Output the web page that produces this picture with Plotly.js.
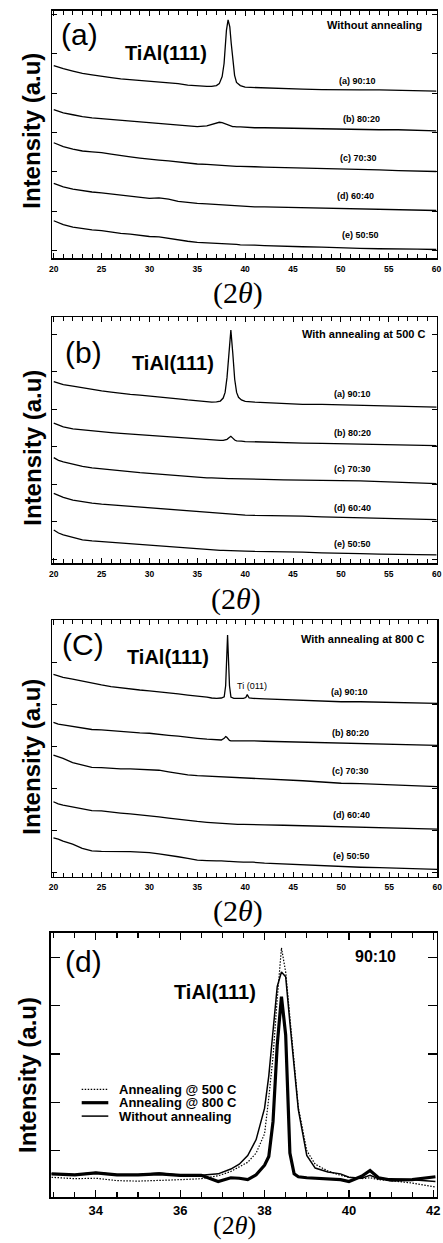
<!DOCTYPE html>
<html><head><meta charset="utf-8">
<script src="https://cdn.plot.ly/plotly-3.0.1.min.js"></script>
<style>html,body{margin:0;padding:0;background:#fff}#chart{width:443px;height:1243px}</style>
</head><body><div id="chart"></div>
<script>
// ---------------- DATA ----------------
// Panel (a) Without annealing
const xA = [20,20.5,21,22,23,24,25,26,27,28,29,30,31,32,33,34,35,36,36.5,37,37.3,37.6,37.8,37.9,38.05,38.22,38.4,38.55,38.7,38.9,39.1,39.5,40,41,42,44,46,48,50,52,54,56,58,60];
const a1 = [4.70,4.65,4.62,4.56,4.50,4.46,4.42,4.39,4.36,4.34,4.33,4.31,4.28,4.26,4.24,4.20,4.18,4.17,4.17,4.19,4.24,4.42,4.75,5.15,5.60,5.86,5.68,5.26,4.85,4.45,4.27,4.19,4.15,4.14,4.13,4.11,4.10,4.09,4.08,4.08,4.08,4.07,4.06,4.05];
const a2 = [3.58,3.54,3.50,3.45,3.40,3.37,3.35,3.32,3.30,3.28,3.26,3.25,3.23,3.21,3.19,3.17,3.15,3.17,3.21,3.25,3.26,3.25,3.23,3.22,3.20,3.18,3.17,3.16,3.15,3.15,3.14,3.14,3.13,3.12,3.12,3.11,3.10,3.09,3.08,3.08,3.07,3.07,3.05,3.04];
const a3 = [2.74,2.69,2.64,2.58,2.53,2.51,2.49,2.45,2.41,2.38,2.35,2.32,2.30,2.28,2.25,2.22,2.20,2.19,2.18,2.18,2.17,2.17,2.16,2.16,2.16,2.16,2.15,2.15,2.15,2.15,2.14,2.14,2.14,2.13,2.12,2.11,2.10,2.09,2.07,2.06,2.05,2.03,2.02,2.01];
const a4 = [1.71,1.66,1.62,1.56,1.52,1.49,1.47,1.44,1.41,1.39,1.36,1.33,1.34,1.31,1.25,1.22,1.20,1.19,1.18,1.18,1.17,1.17,1.16,1.16,1.16,1.15,1.15,1.15,1.14,1.14,1.14,1.13,1.12,1.11,1.11,1.10,1.10,1.09,1.07,1.06,1.05,1.04,1.03,1.02];
const a5 = [0.76,0.70,0.66,0.60,0.56,0.53,0.51,0.47,0.44,0.42,0.39,0.36,0.35,0.31,0.27,0.24,0.21,0.20,0.20,0.19,0.19,0.18,0.18,0.18,0.17,0.17,0.17,0.17,0.16,0.16,0.16,0.15,0.15,0.14,0.13,0.11,0.10,0.09,0.07,0.06,0.05,0.05,0.04,0.03];

// Panel (b) With annealing at 500 C
const xB = [20,20.5,21,22,23,24,25,26,27,28,29,30,31,32,33,34,35,36,36.5,37,37.4,37.7,37.9,38.1,38.3,38.5,38.7,38.9,39.1,39.3,39.6,40,41,42,44,46,48,50,52,54,56,58,60];
const b1 = [4.74,4.69,4.66,4.62,4.57,4.52,4.49,4.46,4.42,4.40,4.38,4.36,4.34,4.31,4.28,4.25,4.22,4.20,4.19,4.20,4.22,4.30,4.45,4.85,5.55,6.11,5.50,4.80,4.45,4.32,4.25,4.21,4.19,4.18,4.15,4.13,4.13,4.12,4.12,4.11,4.09,4.08,4.06];
const b2 = [3.63,3.57,3.53,3.48,3.45,3.42,3.40,3.38,3.36,3.34,3.32,3.30,3.28,3.27,3.25,3.23,3.21,3.19,3.18,3.18,3.17,3.17,3.18,3.20,3.24,3.28,3.23,3.18,3.16,3.15,3.15,3.14,3.13,3.13,3.11,3.10,3.09,3.08,3.08,3.07,3.06,3.05,3.03];
const b3 = [2.71,2.64,2.60,2.53,2.48,2.44,2.41,2.38,2.36,2.33,2.31,2.29,2.27,2.25,2.23,2.20,2.18,2.17,2.17,2.16,2.16,2.16,2.15,2.15,2.15,2.15,2.15,2.14,2.14,2.14,2.14,2.14,2.13,2.13,2.12,2.12,2.11,2.10,2.09,2.07,2.05,2.04,2.02];
const b4 = [1.76,1.70,1.65,1.58,1.53,1.50,1.47,1.45,1.43,1.41,1.40,1.38,1.36,1.34,1.32,1.29,1.27,1.25,1.24,1.23,1.22,1.22,1.21,1.21,1.20,1.20,1.20,1.19,1.19,1.19,1.18,1.18,1.17,1.17,1.16,1.15,1.13,1.12,1.11,1.10,1.08,1.07,1.06];
const b5 = [0.78,0.70,0.65,0.58,0.52,0.49,0.47,0.45,0.43,0.41,0.40,0.38,0.36,0.34,0.32,0.29,0.27,0.26,0.25,0.25,0.24,0.24,0.24,0.23,0.23,0.23,0.23,0.22,0.22,0.22,0.22,0.22,0.21,0.21,0.20,0.19,0.17,0.15,0.15,0.14,0.13,0.12,0.12];

// Panel (c) With annealing at 800 C
const xC = [20,20.5,21,22,23,24,25,26,27,28,29,30,31,32,33,34,35,36,36.5,37,37.5,37.8,37.95,38.05,38.15,38.25,38.35,38.5,38.8,39.2,39.8,40.05,40.2,40.4,40.8,42,44,46,48,50,52,54,56,58,60];
const c1 = [4.72,4.68,4.65,4.61,4.56,4.51,4.47,4.43,4.40,4.38,4.35,4.33,4.31,4.28,4.26,4.23,4.21,4.18,4.16,4.15,4.16,4.19,4.45,5.05,5.66,5.05,4.45,4.18,4.15,4.15,4.15,4.17,4.24,4.16,4.15,4.14,4.12,4.10,4.09,4.07,4.07,4.06,4.05,4.04,4.03];
const c2 = [3.58,3.54,3.52,3.48,3.44,3.41,3.40,3.38,3.36,3.35,3.33,3.32,3.29,3.27,3.25,3.22,3.20,3.18,3.17,3.16,3.16,3.20,3.24,3.23,3.20,3.17,3.15,3.14,3.14,3.14,3.14,3.14,3.15,3.14,3.14,3.13,3.12,3.10,3.09,3.08,3.07,3.07,3.06,3.04,3.03];
const c3 = [2.80,2.76,2.72,2.62,2.56,2.51,2.50,2.48,2.47,2.47,2.46,2.46,2.44,2.40,2.36,2.33,2.31,2.30,2.29,2.29,2.28,2.28,2.28,2.28,2.28,2.27,2.27,2.27,2.27,2.27,2.26,2.26,2.26,2.25,2.25,2.24,2.22,2.19,2.16,2.13,2.12,2.10,2.08,2.07,2.05];
const c4 = [1.69,1.64,1.61,1.57,1.52,1.48,1.47,1.44,1.42,1.40,1.38,1.36,1.33,1.30,1.27,1.24,1.22,1.20,1.19,1.18,1.18,1.17,1.17,1.17,1.17,1.17,1.16,1.16,1.16,1.15,1.15,1.15,1.15,1.15,1.14,1.14,1.13,1.12,1.11,1.10,1.09,1.08,1.07,1.05,1.04];
const c5 = [0.83,0.80,0.75,0.68,0.58,0.52,0.51,0.51,0.51,0.50,0.49,0.48,0.45,0.42,0.38,0.34,0.30,0.29,0.28,0.28,0.28,0.27,0.27,0.27,0.27,0.27,0.27,0.27,0.26,0.26,0.25,0.25,0.25,0.25,0.25,0.23,0.21,0.19,0.16,0.14,0.13,0.12,0.11,0.09,0.08];

// Panel (d) 90:10 zoom on TiAl(111)
const xD = [32.95,33.5,34,34.5,35,35.5,36,36.5,36.9,37.2,37.4,37.6,37.8,38.0,38.1,38.2,38.3,38.4,38.5,38.6,38.7,38.8,39.0,39.2,39.5,39.8,40.0,40.3,40.5,40.7,41.0,41.5,42.05];
const dWithout = [0.52,0.50,0.55,0.50,0.50,0.54,0.49,0.49,0.52,0.62,0.72,0.90,1.23,1.88,2.55,3.54,4.40,4.70,4.60,3.65,2.78,1.85,0.90,0.64,0.56,0.52,0.45,0.43,0.49,0.42,0.42,0.40,0.36];
const d500 = [0.45,0.42,0.43,0.38,0.37,0.38,0.40,0.42,0.48,0.57,0.66,0.76,0.95,1.35,2.10,2.95,4.15,5.20,4.70,3.75,2.82,1.90,1.00,0.72,0.58,0.49,0.45,0.42,0.44,0.40,0.38,0.33,0.25];
const d800 = [0.52,0.50,0.54,0.50,0.50,0.52,0.49,0.49,0.36,0.44,0.43,0.40,0.50,0.70,0.88,1.60,3.19,4.19,3.40,0.95,0.52,0.46,0.44,0.43,0.41,0.40,0.36,0.47,0.59,0.44,0.39,0.40,0.46];

// Texts
const panelLetters = ['(a)','(b)','(C)','(d)'];
const conditions = ['Without annealing','With annealing at 500 C','With annealing at 800 C','90:10'];
const seriesLabels = ['(a) 90:10','(b) 80:20','(c) 70:30','(d) 60:40','(e) 50:50'];
const peakLabel = 'TiAl(111)';
const tiLabel = 'Ti (011)';
const yTitle = 'Intensity (a.u)';
const xTitle = '(2<i>θ</i>)';
const legendNames = ['Annealing @ 500 C','Annealing @ 800 C','Without annealing'];

// ---------------- LAYOUT ----------------
const W = 443, H = 1243;
const px = x => x / W, py = y => 1 - y / H;
const SANS = 'Liberation Sans, Arial, sans-serif';
const SERIF = 'Liberation Serif, Times New Roman, serif';
const DOTS = '1.5px,1.5px';

const panels = [
  {x: xA, ys: [a1,a2,a3,a4,a5], xd:[52.3,436.5], yd:[10.7,258.3], yr:[-0.193,6.091]},
  {x: xB, ys: [b1,b2,b3,b4,b5], xd:[52.3,436.7], yd:[317.3,563.3], yr:[-0.107,6.453]},
  {x: xC, ys: [c1,c2,c3,c4,c5], xd:[52.0,437.2], yd:[620,876.7], yr:[-0.095,6.017]}
];

const traces = [];
const layout = {
  width: W, height: H, margin:{l:0,r:0,t:0,b:0},
  paper_bgcolor:'white', plot_bgcolor:'white', showlegend:false,
  annotations: [], shapes: []
};

function axisCommon(domain, range, opts) {
  return Object.assign({
    domain: domain, range: range, showline:true, linecolor:'black', linewidth:1.5,
    mirror:'ticks', ticks:'inside', tickcolor:'black', showgrid:false, zeroline:false,
    fixedrange:true
  }, opts);
}

panels.forEach((p, i) => {
  const n = i + 1;
  const suf = n === 1 ? '' : String(n);
  p.ys.forEach(y => traces.push({
    type:'scatter', mode:'lines', x: p.x, y: y, xaxis:'x'+suf, yaxis:'y'+suf,
    line:{color:'black', width:1.3}, hoverinfo:'skip'
  }));
  layout['xaxis'+suf] = axisCommon([px(p.xd[0]), px(p.xd[1])], [19.85, 60], {
    anchor: 'y'+suf, dtick:5, tick0:0, ticklen:5, tickwidth:1,
    minor:{ticks:'inside', dtick:1, ticklen:4, tickcolor:'black', tickwidth:1, showgrid:false},
    tickfont:{family:SANS, size:8.5, color:'black', weight:'bold'}, ticklabelstandoff:2
  });
  layout['yaxis'+suf] = axisCommon([py(p.yd[1]), py(p.yd[0])], p.yr, {
    anchor: 'x'+suf, dtick:1, tick0:0, ticklen:5, tickwidth:1, showticklabels:false
  });
});

// Panel d
[[dWithout, {color:'black', width:1.5}],
 [d800, {color:'black', width:3.2}],
 [d500, {color:'black', width:1.2, dash:DOTS}]].forEach(t => {
  traces.push({type:'scatter', mode:'lines', x:xD, y:t[0], xaxis:'x4', yaxis:'y4', line:t[1], hoverinfo:'skip'});
});
layout.xaxis4 = axisCommon([px(50.7), px(436.7)], [32.93, 42.08], {
  anchor:'y4', dtick:2, tick0:0, ticklen:7, tickwidth:1.2,
  minor:{ticks:'inside', dtick:0.5, ticklen:5, tickcolor:'black', tickwidth:1.2, showgrid:false},
  tickfont:{family:SANS, size:13, color:'black', weight:'bold'}, ticklabelstandoff:1
});
layout.yaxis4 = axisCommon([py(1197.3), py(932.7)], [0.035, 5.513], {
  anchor:'x4', dtick:1, tick0:0, ticklen:9, tickwidth:1.2, showticklabels:false
});

// Annotations
function ann(text, x, y, size, bold, extra) {
  return Object.assign({
    xref:'paper', yref:'paper', x:px(x), y:py(y), xanchor:'center', yanchor:'middle',
    text: bold ? '<b>'+text+'</b>' : text, showarrow:false,
    font:{family:SANS, size:size, color:'black'}
  }, extra || {});
}
const A = layout.annotations;
const letterPos = [[79.5,34],[83.3,352.5],[82.5,644],[83.3,961]];
const peakPos = [[166,53],[172.5,363.3],[167.5,656.7],[215,991.7]];
const condPos = [[374.5,25.3,11],[363.3,334.5,11],[362.5,639.3,11],[375,956.7,16]];
const yTitlePos = [[31.7,131],[31.7,448],[31.7,757],[27,1075]];
const xTitlePos = [[238,293,30],[236,599,30],[238,911,30],[234,1225.5,26]];
const seriesPos = [
  [[357.8,80.7],[361.2,119.3],[358.7,158.3],[355.3,196.3],[360,235]],
  [[352,394.5],[352,432.8],[352,468.6],[352,507.7],[352,544.3]],
  [[349.3,691.5],[350,733],[350,771],[351,814.5],[351,855.5]]
];
for (let i = 0; i < 4; i++) {
  A.push(ann(panelLetters[i], letterPos[i][0], letterPos[i][1], 30, false));
  A.push(ann(peakLabel, peakPos[i][0], peakPos[i][1], 20, true));
  A.push(ann(conditions[i], condPos[i][0], condPos[i][1], condPos[i][2], true));
  A.push(ann(yTitle, yTitlePos[i][0], yTitlePos[i][1], 24, true, {textangle:-90}));
  A.push(ann(xTitle, xTitlePos[i][0], xTitlePos[i][1], xTitlePos[i][2], false,
    {font:{family:SERIF, size:xTitlePos[i][2], color:'black'}}));
}
seriesPos.forEach(row => row.forEach((pos, j) => A.push(ann(seriesLabels[j], pos[0], pos[1], 9, true))));
A.push(ann(tiLabel, 252, 686, 9, false));

// Legend for panel d (line samples + text)
const legRows = [1089.3, 1102.7, 1116.1];
const legStyles = [{width:1.2, dash:DOTS}, {width:3.2}, {width:1.5}];
legRows.forEach((y, k) => {
  layout.shapes.push({type:'line', xref:'paper', yref:'paper', x0:px(81.7), x1:px(108.3), y0:py(y), y1:py(y),
    line:Object.assign({color:'black'}, legStyles[k])});
  A.push(ann(legendNames[k], 116.7, y, 13, true, {xanchor:'left'}));
});

Plotly.newPlot('chart', traces, layout, {staticPlot:true, displayModeBar:false});
</script></body></html>
